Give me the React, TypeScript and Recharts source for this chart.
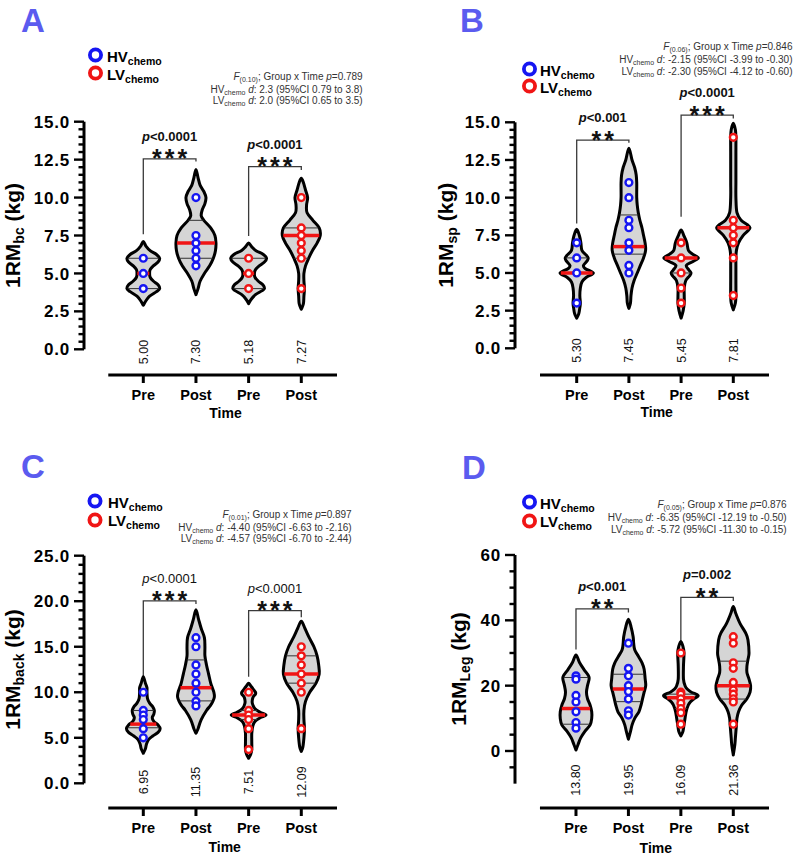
import React from 'react'
import { ScatterChart, Scatter, XAxis, YAxis, ReferenceLine } from 'recharts'

const FONT = '"Liberation Sans", Arial, Helvetica, sans-serif'
const BLUE = '#1616f2'
const RED = '#f01515'
const LETTER = '#5b5bef'
const VIOLIN_FILL = '#d5d5d5'

const TIME_LABELS = ['Pre', 'Post', 'Pre', 'Post']
const GROUP_COLORS = [BLUE, BLUE, RED, RED]

// violin outlines: [value, half width in category units], bottom tip -> top tip
const A_VIOLINS: [number, number][][] = [
  [[2.9, 0], [3.2, 0.05], [3.5, 0.12], [3.8, 0.25], [4.0, 0.31], [4.25, 0.28], [4.5, 0.19], [4.75, 0.13], [5.0, 0.12], [5.25, 0.13], [5.5, 0.19], [5.75, 0.28], [6.0, 0.31], [6.25, 0.25], [6.5, 0.13], [6.8, 0.05], [7.1, 0]],
  [[3.6, 0], [4.0, 0.04], [4.5, 0.08], [5.0, 0.16], [5.5, 0.26], [6.0, 0.33], [6.5, 0.37], [7.0, 0.38], [7.5, 0.36], [8.0, 0.28], [8.5, 0.15], [8.8, 0.1], [9.2, 0.12], [9.6, 0.17], [10.0, 0.19], [10.4, 0.15], [10.8, 0.08], [11.3, 0.04], [11.85, 0]],
  [[3.0, 0], [3.3, 0.05], [3.6, 0.13], [3.85, 0.25], [4.0, 0.3], [4.25, 0.27], [4.5, 0.18], [4.75, 0.12], [5.0, 0.11], [5.25, 0.13], [5.5, 0.2], [5.75, 0.3], [6.0, 0.34], [6.25, 0.28], [6.5, 0.14], [6.75, 0.06], [7.0, 0]],
  [[2.64, 0], [3.0, 0.04], [3.5, 0.05], [4.0, 0.06], [4.5, 0.05], [5.0, 0.05], [5.5, 0.08], [6.0, 0.14], [6.5, 0.21], [7.0, 0.3], [7.5, 0.36], [8.0, 0.34], [8.5, 0.22], [9.0, 0.11], [9.5, 0.1], [10.0, 0.12], [10.5, 0.08], [11.0, 0.04], [11.27, 0]],
]
const A_MEDIANS = [5.0, 7.0, 5.0, 7.5]
const A_QUARTILES = [[4, 6], [6, 8.5], [4, 6], [6, 8]]
const A_POINTS = [[6, 5, 4], [10, 7.5, 7, 6.5, 6, 5.5], [6, 5, 4], [10, 8, 7.5, 7, 6.5, 6, 4]]
const A_MEANS = ['5.00', '7.30', '5.18', '7.27']
const A_BRACKETS = [
  { from: 1, to: 2, yFrom: 7.58, yTop: 12.55, yTo: 12.37, p: 'p<0.0001', stars: '***' },
  { from: 3, to: 4, yFrom: 7.47, yTop: 12.04, yTo: 11.82, p: 'p<0.0001', stars: '***' },
]

const B_VIOLINS: [number, number][][] = [
  [[2.0, 0], [2.3, 0.04], [2.7, 0.06], [3.0, 0.07], [3.5, 0.06], [4.0, 0.07], [4.4, 0.1], [4.7, 0.18], [4.9, 0.29], [5.0, 0.32], [5.1, 0.28], [5.3, 0.16], [5.5, 0.13], [5.8, 0.2], [6.0, 0.22], [6.2, 0.18], [6.5, 0.1], [7.0, 0.08], [7.5, 0.05], [7.9, 0]],
  [[2.65, 0], [3.0, 0.03], [3.5, 0.04], [4.0, 0.06], [4.5, 0.1], [5.0, 0.16], [5.5, 0.22], [6.0, 0.28], [6.5, 0.32], [7.0, 0.31], [7.5, 0.28], [8.0, 0.25], [8.5, 0.21], [9.0, 0.18], [9.5, 0.16], [10.0, 0.15], [10.5, 0.15], [11.0, 0.15], [11.5, 0.14], [12.0, 0.11], [12.5, 0.06], [13.27, 0]],
  [[2.0, 0], [2.5, 0.04], [3.0, 0.06], [3.5, 0.06], [4.0, 0.06], [4.5, 0.09], [4.8, 0.16], [5.0, 0.19], [5.2, 0.15], [5.5, 0.1], [5.75, 0.22], [6.0, 0.33], [6.25, 0.22], [6.5, 0.14], [7.0, 0.11], [7.5, 0.05], [7.86, 0]],
  [[2.55, 0], [3.0, 0.04], [3.5, 0.05], [4.5, 0.05], [5.5, 0.05], [6.0, 0.05], [6.5, 0.06], [7.0, 0.1], [7.5, 0.19], [7.8, 0.28], [8.0, 0.32], [8.2, 0.27], [8.5, 0.15], [9.0, 0.07], [10.0, 0.05], [11.0, 0.05], [12.0, 0.05], [13.0, 0.05], [14.0, 0.05], [14.5, 0.04], [14.93, 0]],
]
const B_MEDIANS = [5.0, 6.75, 6.0, 8.0]
const B_QUARTILES = [[5, 6], [6.25, 8.85], [5, 6], [7, 8]]
const B_POINTS = [[7, 6, 5, 3], [11, 10, 8.5, 8, 7, 6.5, 5.5, 5], [7, 6, 5, 4, 3], [14, 8.5, 8, 7.5, 7, 6, 3.5]]
const B_MEANS = ['5.30', '7.45', '5.45', '7.81']
const B_BRACKETS = [
  { from: 1, to: 2, yFrom: 8.29, yTop: 13.82, yTo: 13.65, p: 'p<0.001', stars: '**' },
  { from: 3, to: 4, yFrom: 8.73, yTop: 15.48, yTo: 15.26, p: 'p<0.0001', stars: '***' },
]

const C_VIOLINS: [number, number][][] = [
  [[3.3, 0], [3.8, 0.04], [4.3, 0.06], [4.8, 0.1], [5.2, 0.18], [5.6, 0.28], [6.0, 0.32], [6.4, 0.28], [6.8, 0.2], [7.2, 0.17], [7.6, 0.2], [8.0, 0.21], [8.4, 0.18], [8.8, 0.12], [9.3, 0.08], [10.0, 0.07], [10.5, 0.07], [11.0, 0.04], [11.7, 0]],
  [[5.5, 0], [6.0, 0.04], [7.0, 0.1], [8.0, 0.2], [8.5, 0.27], [9.0, 0.32], [9.5, 0.35], [10.0, 0.34], [10.5, 0.31], [11.0, 0.28], [12.0, 0.24], [13.0, 0.2], [14.0, 0.17], [15.0, 0.17], [16.0, 0.16], [17.0, 0.1], [18.0, 0.05], [19.05, 0]],
  [[2.75, 0], [3.2, 0.04], [3.7, 0.06], [4.5, 0.06], [5.5, 0.06], [6.3, 0.08], [6.8, 0.12], [7.2, 0.22], [7.5, 0.33], [7.8, 0.22], [8.2, 0.12], [8.8, 0.07], [9.4, 0.08], [9.8, 0.13], [10.0, 0.13], [10.4, 0.08], [10.7, 0.04], [11.0, 0]],
  [[3.5, 0], [4.0, 0.03], [5.0, 0.05], [6.0, 0.06], [7.0, 0.05], [8.0, 0.05], [9.0, 0.08], [10.0, 0.16], [11.0, 0.28], [12.0, 0.34], [13.0, 0.33], [14.0, 0.3], [15.0, 0.24], [16.0, 0.15], [17.0, 0.07], [17.8, 0]],
]
const C_MEDIANS = [6.5, 10.5, 7.5, 12]
const C_QUARTILES = [[6.1, 8], [9.05, 13.55], [7, 8], [11, 14]]
const C_POINTS = [[10, 8, 7.5, 7, 6, 5], [16, 15, 13, 12, 11, 10, 9, 8.5], [10, 8, 7.5, 7, 6, 3.7], [15, 14, 13, 12, 11, 10, 6]]
const C_MEANS = ['6.95', '11.35', '7.51', '12.09']
const C_BRACKETS = [
  { from: 1, to: 2, yFrom: 11.6, yTop: 20.04, yTo: 19.7, p: 'p<0.0001', stars: '***' },
  { from: 3, to: 4, yFrom: 11.7, yTop: 18.97, yTo: 18.24, p: 'p<0.0001', stars: '***' },
]

const D_VIOLINS: [number, number][][] = [
  [[0.3, 0], [2, 0.04], [4, 0.09], [6, 0.17], [8, 0.27], [10, 0.3], [12, 0.3], [14, 0.27], [16, 0.22], [18, 0.2], [20, 0.22], [22, 0.25], [23, 0.24], [25, 0.15], [27, 0.07], [29.4, 0]],
  [[3.6, 0], [6, 0.04], [8, 0.07], [10, 0.12], [12, 0.2], [14, 0.24], [16, 0.27], [18, 0.3], [20, 0.33], [22, 0.32], [25, 0.3], [27, 0.26], [29, 0.19], [31, 0.12], [33, 0.1], [35, 0.09], [38, 0.05], [40.3, 0]],
  [[4.6, 0], [6, 0.04], [8, 0.06], [10, 0.08], [12, 0.1], [14, 0.14], [15, 0.18], [16, 0.25], [17, 0.33], [18, 0.2], [19, 0.12], [20, 0.08], [22, 0.05], [26, 0.05], [30, 0.06], [32, 0.04], [33.5, 0]],
  [[-1.2, 0], [2, 0.03], [4, 0.04], [6, 0.05], [8, 0.06], [10, 0.07], [12, 0.1], [14, 0.16], [16, 0.26], [18, 0.32], [20, 0.33], [22, 0.3], [24, 0.26], [26, 0.26], [28, 0.28], [30, 0.3], [34, 0.28], [36, 0.24], [39, 0.13], [42, 0.05], [44.2, 0]],
]
const D_MEDIANS = [13, 19, 16.3, 20]
const D_QUARTILES = [[8.2, 22.5], [15.1, 23.5], [13, 17.4], [15.9, 27.5]]
const D_POINTS = [[23, 22, 17, 15, 12, 8.7, 7], [33, 25.3, 23, 20, 18.2, 15.9, 12.3, 11], [30, 18, 17.4, 16, 14.6, 13, 11.7, 8.2], [35, 33, 27, 25.3, 21, 18.7, 17.4, 16, 15, 8.2]]
const D_MEANS = ['13.80', '19.95', '16.09', '21.36']
const D_BRACKETS = [
  { from: 1, to: 2, yFrom: 31.1, yTop: 43.5, yTo: 42.4, p: 'p<0.001', stars: '**' },
  { from: 3, to: 4, yFrom: 33.5, yTop: 47, yTo: 45.9, p: 'p=0.002', stars: '**' },
]

const STATS = [
  { f: '(0.10)', p: '0.789', hv: '2.3 (95%CI 0.79 to 3.8)', lv: '2.0 (95%CI 0.65 to 3.5)' },
  { f: '(0.06)', p: '0.846', hv: '-2.15 (95%CI -3.99 to -0.30)', lv: '-2.30 (95%CI -4.12 to -0.60)' },
  { f: '(0.01)', p: '0.897', hv: '-4.40 (95%CI -6.63 to -2.16)', lv: '-4.57 (95%CI -6.70 to -2.44)' },
  { f: '(0.05)', p: '0.876', hv: '-6.35 (95%CI -12.19 to -0.50)', lv: '-5.72 (95%CI -11.30 to -0.15)' },
]

type Bracket = { from: number; to: number; yFrom: number; yTop: number; yTo: number; p: string; stars: string }

interface PanelCfg {
  violins: [number, number][][]
  medians: number[]
  quartiles: number[][]
  points: number[][]
  means: string[]
  brackets: Bracket[]
  pBold: boolean
  left: number
  top: number
  height: number
  plotTop: number
  yAxisW: number
  right: number
  xAxisH: number
  xDomain: [number, number]
  yDomain: [number, number]
  axisStart: number
  yLine: [number, number]
  tickMin: number
  tickStep: number
  majorStep: number
  decimals: number
  meanY: number
}

const PANELS: PanelCfg[] = [
  {
    violins: A_VIOLINS, medians: A_MEDIANS, quartiles: A_QUARTILES, points: A_POINTS, means: A_MEANS, brackets: A_BRACKETS, pBold: true,
    left: 0, top: 0, height: 427, plotTop: 90, yAxisW: 84, right: 60, xAxisH: 52,
    xDomain: [-0.126, 4.678], yDomain: [-1.694, 17.089], axisStart: 0.335, yLine: [0, 15],
    tickMin: 0, tickStep: 0.5, majorStep: 2.5, decimals: 1, meanY: -0.18,
  },
  {
    violins: B_VIOLINS, medians: B_MEDIANS, quartiles: B_QUARTILES, points: B_POINTS, means: B_MEANS, brackets: B_BRACKETS, pBold: true,
    left: 397, top: 0, height: 427, plotTop: 85, yAxisW: 118, right: 25, xAxisH: 52,
    xDomain: [-0.182, 4.684], yDomain: [-1.772, 17.476], axisStart: 0.297, yLine: [0, 15],
    tickMin: 0, tickStep: 0.5, majorStep: 2.5, decimals: 1, meanY: -0.15,
  },
  {
    violins: C_VIOLINS, medians: C_MEDIANS, quartiles: C_QUARTILES, points: C_POINTS, means: C_MEANS, brackets: C_BRACKETS, pBold: false,
    left: 0, top: 427, height: 428, plotTop: 93, yAxisW: 84, right: 60, xAxisH: 47,
    xDomain: [-0.126, 4.678], yDomain: [-2.713, 28.92], axisStart: 0.335, yLine: [0, 25],
    tickMin: 0, tickStep: 1, majorStep: 5, decimals: 1, meanY: 0.14,
  },
  {
    violins: D_VIOLINS, medians: D_MEDIANS, quartiles: D_QUARTILES, points: D_POINTS, means: D_MEANS, brackets: D_BRACKETS, pBold: true,
    left: 397, top: 427, height: 428, plotTop: 93, yAxisW: 118, right: 25, xAxisH: 47,
    xDomain: [-0.163, 4.681], yDomain: [-17.45, 70.71], axisStart: 0.313, yLine: [-10, 60],
    tickMin: -5, tickStep: 5, majorStep: 20, decimals: 0, meanY: -8.9,
  },
]

const noShape = () => <g />

// smooth closed outline through the points the Scatter line hands over (pixel coords)
function ViolinPath(props: any) {
  const pts = props.points as { x: number; y: number }[]
  if (!pts || pts.length < 2) return null
  const n = pts.length
  let d = `M${pts[0].x},${pts[0].y}`
  for (let i = 0; i < n - 1; i++) {
    const p0 = pts[Math.max(0, i - 1)]
    const p1 = pts[i]
    const p2 = pts[i + 1]
    const p3 = pts[Math.min(n - 1, i + 2)]
    const c1x = p1.x + (p2.x - p0.x) / 6
    const c1y = p1.y + (p2.y - p0.y) / 6
    const c2x = p2.x - (p3.x - p1.x) / 6
    const c2y = p2.y - (p3.y - p1.y) / 6
    d += ` C${c1x},${c1y} ${c2x},${c2y} ${p2.x},${p2.y}`
  }
  d += ' Z'
  return <path d={d} fill={props.bg} stroke={props.edge} strokeWidth={props.edgeW} strokeLinejoin="round" />
}

function halfWidthAt(profile: [number, number][], y: number) {
  for (let i = 1; i < profile.length; i++) {
    const [y0, w0] = profile[i - 1]
    const [y1, w1] = profile[i]
    if (y >= y0 && y <= y1) return w0 + ((w1 - w0) * (y - y0)) / (y1 - y0)
  }
  return 0
}

function outline(profile: [number, number][], cx: number) {
  const right = profile.map(([y, w]) => ({ x: cx + w, y }))
  const left = profile.slice().reverse().map(([y, w]) => ({ x: cx - w, y }))
  return [...right, ...left.slice(1)]
}

function hLine(profile: [number, number][], cx: number, y: number) {
  const w = halfWidthAt(profile, y) * 0.95
  return [{ x: cx - w, y }, { x: cx + w, y }]
}

function Panel({ p }: { p: PanelCfg }) {
  const axisX = p.yAxisW
  const yTicks: number[] = []
  for (let v = p.tickMin; v <= p.yLine[1] + 1e-9; v += p.tickStep) yTicks.push(Math.round(v * 100) / 100)

  const yTick = (props: any) => {
    const v = props.payload.value
    const major = Math.abs(v / p.majorStep - Math.round(v / p.majorStep)) < 1e-6
    return (
      <g>
        <line x1={axisX - (major ? 10 : 5.5)} x2={axisX} y1={props.y} y2={props.y} stroke="#000" strokeWidth={2.4} />
        {major && (
          <text x={axisX - 14} y={props.y} dy="0.36em" textAnchor="end" fontFamily={FONT} fontWeight={700} fontSize={17} letterSpacing={0.8} fill="#000">
            {v.toFixed(p.decimals)}
          </text>
        )}
      </g>
    )
  }

  const annotation = (props: any) => {
    const { cx, cy, payload } = props
    return (
      <g>
        <text x={cx} y={cy - 18} textAnchor="middle" fontFamily={FONT} fontSize={13} fontWeight={p.pBold ? 700 : 400} fill="#111">
          <tspan fontStyle="italic">{payload.p[0]}</tspan>
          {payload.p.slice(1)}
        </text>
        <text x={cx + 1.5} y={cy + 8.5} textAnchor="middle" fontFamily={FONT} fontSize={25} fontWeight={700} letterSpacing={3} fill="#111">
          {payload.stars}
        </text>
      </g>
    )
  }

  // mean values, written bottom-to-top under each violin
  const meanLabel = (props: any) => {
    const { cx, cy, payload } = props
    const bx = cx + 4.5
    return (
      <text x={bx} y={cy} transform={`rotate(-90 ${bx} ${cy})`} textAnchor="middle" fontFamily={FONT} fontSize={12.5} fill="#111">
        {payload.label}
      </text>
    )
  }

  const dot = (color: string) => (props: any) =>
    <circle cx={props.cx} cy={props.cy} r={3.4} fill="#fff" stroke={color} strokeWidth={2.4} />

  return (
    <div style={{ position: 'absolute', left: p.left, top: p.top }}>
      <ScatterChart width={397} height={p.height} margin={{ top: p.plotTop, right: p.right, bottom: 0, left: 0 }}>
        <XAxis
          type="number"
          dataKey="x"
          domain={p.xDomain}
          ticks={[1, 2, 3, 4]}
          interval={0}
          height={p.xAxisH}
          axisLine={false}
          tickLine={{ stroke: '#000', strokeWidth: 3 }}
          tickSize={8}
          tickMargin={7}
          tickFormatter={(v: number) => TIME_LABELS[v - 1]}
          tick={{ fill: '#000', fontSize: 14.5, fontWeight: 700, fontFamily: FONT }}
        />
        <YAxis
          type="number"
          dataKey="y"
          domain={p.yDomain}
          ticks={yTicks}
          interval={0}
          width={p.yAxisW}
          axisLine={false}
          tickLine={false}
          tick={yTick}
        />
        <ReferenceLine
          segment={[{ x: p.xDomain[0], y: p.yLine[0] }, { x: p.xDomain[0], y: p.yLine[1] }]}
          stroke="#000"
          strokeWidth={3}
          ifOverflow="visible"
        />
        <ReferenceLine
          segment={[{ x: p.axisStart, y: p.yDomain[0] }, { x: p.xDomain[1], y: p.yDomain[0] }]}
          stroke="#000"
          strokeWidth={3}
          ifOverflow="visible"
        />
        {p.brackets.map((b, i) => (
          <Scatter
            key={'br' + i}
            data={[{ x: b.from, y: b.yFrom }, { x: b.from, y: b.yTop }, { x: b.to, y: b.yTop }, { x: b.to, y: b.yTo }]}
            line={{ stroke: '#3a3a3a', strokeWidth: 1.3 }}
            lineJointType="linear"
            shape={noShape}
            isAnimationActive={false}
          />
        ))}
        {p.violins.map((prof, i) => (
          <Scatter
            key={'v' + i}
            data={outline(prof, i + 1)}
            line={<ViolinPath bg={VIOLIN_FILL} edge="#000" edgeW={3} />}
            shape={noShape}
            isAnimationActive={false}
          />
        ))}
        {p.violins.map((prof, i) =>
          p.quartiles[i].map((q, j) => (
            <Scatter
              key={'q' + i + '-' + j}
              data={hLine(prof, i + 1, q)}
              line={{ stroke: '#333', strokeWidth: 1 }}
              shape={noShape}
              isAnimationActive={false}
            />
          ))
        )}
        {p.violins.map((prof, i) => (
          <Scatter
            key={'m' + i}
            data={hLine(prof, i + 1, p.medians[i])}
            line={{ stroke: RED, strokeWidth: 3.5 }}
            shape={noShape}
            isAnimationActive={false}
          />
        ))}
        {p.points.map((vals, i) => (
          <Scatter
            key={'pt' + i}
            data={vals.map((v) => ({ x: i + 1, y: v }))}
            shape={dot(GROUP_COLORS[i])}
            isAnimationActive={false}
          />
        ))}
        <Scatter
          data={p.brackets.map((b) => ({ x: (b.from + b.to) / 2, y: b.yTop, p: b.p, stars: b.stars }))}
          shape={annotation}
          isAnimationActive={false}
        />
        <Scatter
          data={p.means.map((m, i) => ({ x: i + 1, y: p.meanY, label: m }))}
          shape={meanLabel}
          isAnimationActive={false}
        />
      </ScatterChart>
    </div>
  )
}

const OVERLAY = [
  { letter: 'A', lx: 21, ly: 32, cx: 95.5, c1: 55, c2: 73, tx: 107, t1: 62.3, t2: 79.5, sx: 362.7, s: [80, 92.7, 104], ylx: 19.5, yly: 235.5, sub: 'bc', timeX: 225.5, timeY: 418 },
  { letter: 'B', lx: 460, ly: 32, cx: 529.5, c1: 69, c2: 86, tx: 540, t1: 76, t2: 93, sx: 792.5, s: [50, 63.3, 75], ylx: 453, yly: 235.3, sub: 'sp', timeX: 656.7, timeY: 417 },
  { letter: 'C', lx: 21, ly: 478, cx: 95, c1: 501, c2: 520, tx: 108, t1: 507.5, t2: 526, sx: 351.7, s: [518, 531, 542.3], ylx: 20, yly: 669.5, sub: 'back', timeX: 224.7, timeY: 852 },
  { letter: 'D', lx: 462, ly: 479, cx: 529.5, c1: 502, c2: 521, tx: 540, t1: 508.5, t2: 527, sx: 786.7, s: [508, 521, 532.7], ylx: 466, yly: 669, sub: 'Leg', timeX: 655.8, timeY: 852.5 },
]

function Overlay() {
  return (
    <svg width={794} height={855} style={{ position: 'absolute', left: 0, top: 0, pointerEvents: 'none' }} fontFamily={FONT}>
      {OVERLAY.map((o, i) => {
        const st = STATS[i]
        return (
          <g key={o.letter}>
            <text x={o.lx} y={o.ly} fontSize={33} fontWeight={700} fill={LETTER}>{o.letter}</text>
            <circle cx={o.cx} cy={o.c1} r={5.6} fill="none" stroke={BLUE} strokeWidth={3.8} />
            <circle cx={o.cx} cy={o.c2} r={5.6} fill="none" stroke={RED} strokeWidth={3.8} />
            <text x={o.tx} y={o.t1} fontSize={15} fontWeight={700} fill="#000">
              HV<tspan fontSize={10.5} dy={3}>chemo</tspan>
            </text>
            <text x={o.tx} y={o.t2} fontSize={15} fontWeight={700} fill="#000">
              LV<tspan fontSize={10.5} dy={3}>chemo</tspan>
            </text>
            <text x={o.sx} y={o.s[0]} fontSize={10} textAnchor="end" fill="#333">
              <tspan fontStyle="italic">F</tspan>
              <tspan fontSize={7} dy={2}>{st.f}</tspan>
              <tspan dy={-2}>; Group x Time </tspan>
              <tspan fontStyle="italic">p</tspan>={st.p}
            </text>
            <text x={o.sx} y={o.s[1]} fontSize={10} textAnchor="end" fill="#333">
              HV<tspan fontSize={7} dy={2}>chemo</tspan>
              <tspan dy={-2}> </tspan>
              <tspan fontStyle="italic">d</tspan>: {st.hv}
            </text>
            <text x={o.sx} y={o.s[2]} fontSize={10} textAnchor="end" fill="#333">
              LV<tspan fontSize={7} dy={2}>chemo</tspan>
              <tspan dy={-2}> </tspan>
              <tspan fontStyle="italic">d</tspan>: {st.lv}
            </text>
            <text x={o.ylx} y={o.yly} transform={`rotate(-90 ${o.ylx} ${o.yly})`} textAnchor="middle" fontSize={21} fontWeight={700} fill="#000">
              1RM<tspan fontSize={14} dy={4}>{o.sub}</tspan>
              <tspan dy={-4}> (kg)</tspan>
            </text>
            <text x={o.timeX} y={o.timeY} textAnchor="middle" fontSize={14} fontWeight={700} fill="#000">Time</text>
          </g>
        )
      })}
    </svg>
  )
}

export default function App() {
  return (
    <div style={{ position: 'absolute', left: 0, top: 0, width: 794, height: 855, background: '#fff', overflow: 'hidden' }}>
      {PANELS.map((p, i) => (
        <Panel key={i} p={p} />
      ))}
      <Overlay />
    </div>
  )
}
